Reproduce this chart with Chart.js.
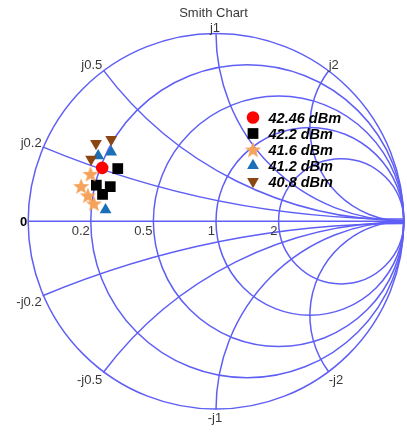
<!DOCTYPE html>
<html>
<head>
<meta charset="utf-8">
<script src="https://cdn.jsdelivr.net/npm/chart.js@4/dist/chart.umd.min.js"></script>
<style>
    html, body { margin: 0; padding: 0; background: #fff; }
    #smith { display: block; }
</style>
</head>
<body>
<canvas id="smith" width="407" height="432"></canvas>
<script>
// measured points as reflection coefficient (real, imaginary)
const seriesLabels = ['42.46 dBm', '42.2 dBm', '41.6 dBm', '41.2 dBm', '40.8 dBm'];
const gamma4246Re = [-0.606];
const gamma4246Im = [0.284];
const gamma422Re = [-0.523, -0.637, -0.563, -0.604];
const gamma422Im = [0.280, 0.192, 0.184, 0.143];
const gamma416Re = [-0.668, -0.718, -0.682, -0.650];
const gamma416Im = [0.252, 0.187, 0.138, 0.095];
const gamma412Re = [-0.627, -0.558, -0.588];
const gamma412Im = [0.348, 0.368, 0.061];
const gamma408Re = [-0.639, -0.558, -0.665];
const gamma408Im = [0.414, 0.435, 0.330];

// grid
const resistanceValues = [0.2, 0.5, 1, 2];
const reactanceValues = [0.2, 0.5, 1, 2];
const resistanceLabels = ['0.2', '0.5', '1', '2'];
const reactanceLabels = ['j0.2', 'j0.5', 'j1', 'j2'];

const gridColor = '#5f5ff6';
const labelColor = '#383838';

function pairs(re, im) {
    return re.map((v, i) => ({ x: v, y: im[i] }));
}

function makeStar(color) {
    const c = document.createElement('canvas');
    c.width = 18; c.height = 18;
    const g = c.getContext('2d');
    g.fillStyle = color;
    g.beginPath();
    for (let i = 0; i < 10; i++) {
        const r = i % 2 === 0 ? 8.5 : 3.6;
        const a = -Math.PI / 2 + i * Math.PI / 5;
        const px = 9 + r * Math.cos(a), py = 9.8 + r * Math.sin(a);
        if (i === 0) g.moveTo(px, py); else g.lineTo(px, py);
    }
    g.closePath();
    g.fill();
    return c;
}

const starImage = makeStar('#f5a25a');

const seriesStyles = [
    { pointStyle: 'circle', radius: 6.3, color: '#ff0000', rotation: 0 },
    { pointStyle: 'rect', radius: 7.6, color: '#000000', rotation: 0 },
    { pointStyle: starImage, radius: 8, color: '#f5a25a', rotation: 0 },
    { pointStyle: 'triangle', radius: 6.8, color: '#1a6fb6', rotation: 0 },
    { pointStyle: 'triangle', radius: 6.8, color: '#8b4513', rotation: 180 },
];

const seriesData = [
    pairs(gamma4246Re, gamma4246Im),
    pairs(gamma422Re, gamma422Im),
    pairs(gamma416Re, gamma416Im),
    pairs(gamma412Re, gamma412Im),
    pairs(gamma408Re, gamma408Im),
];

const smithGrid = {
    id: 'smithGrid',
    beforeDatasetsDraw(chart) {
        const { ctx, scales: { x, y } } = chart;
        const px = v => x.getPixelForValue(v);
        const py = v => y.getPixelForValue(v);
        const unit = px(1) - px(0);

        ctx.save();
        ctx.strokeStyle = gridColor;
        ctx.lineWidth = 1.5;

        // r = 0 and the constant resistance circles
        ctx.beginPath();
        ctx.arc(px(0), py(0), unit, 0, Math.PI * 2);
        ctx.stroke();
        resistanceValues.forEach(r => {
            ctx.beginPath();
            ctx.arc(px(r / (1 + r)), py(0), unit / (1 + r), 0, Math.PI * 2);
            ctx.stroke();
        });

        // real axis
        ctx.beginPath();
        ctx.moveTo(px(-1), py(0));
        ctx.lineTo(px(1), py(0));
        ctx.stroke();

        // constant reactance arcs, +jx and -jx
        reactanceValues.forEach(xv => {
            const bx = (xv * xv - 1) / (xv * xv + 1);
            const by = 2 * xv / (xv * xv + 1);
            let angB = Math.atan2(-(by - 1 / xv), bx - 1);
            if (angB < 0) angB += Math.PI * 2;
            ctx.beginPath();
            ctx.arc(px(1), py(1 / xv), unit / xv, Math.PI / 2, angB);
            ctx.stroke();
            ctx.beginPath();
            ctx.arc(px(1), py(-1 / xv), unit / xv, Math.PI * 2 - angB, Math.PI * 1.5);
            ctx.stroke();
        });

        // labels
        ctx.fillStyle = labelColor;
        ctx.font = '13px "Liberation Sans", Arial, sans-serif';
        ctx.textBaseline = 'middle';
        reactanceValues.forEach((xv, i) => {
            const bx = px((xv * xv - 1) / (xv * xv + 1));
            const byUp = py(2 * xv / (xv * xv + 1));
            const byDn = py(-2 * xv / (xv * xv + 1));
            let tx = bx;
            if (xv < 1) { ctx.textAlign = 'right'; tx = bx - 1; }
            else if (xv === 1) { ctx.textAlign = 'center'; tx = bx - 1; }
            else { ctx.textAlign = 'left'; tx = bx; }
            ctx.fillText(reactanceLabels[i], tx, byUp - 5);
            ctx.fillText('-' + reactanceLabels[i], tx, byDn + 8.5);
        });
        ctx.textAlign = 'right';
        resistanceValues.forEach((r, i) => {
            ctx.fillText(resistanceLabels[i], px((r - 1) / (r + 1)) - 1, py(0) + 10.5);
        });
        ctx.fillStyle = '#000';
        ctx.font = 'bold 13px "Liberation Sans", Arial, sans-serif';
        ctx.fillText('0', px(-1) - 1, py(0) + 1);

        // title
        ctx.fillStyle = labelColor;
        ctx.font = '13px "Liberation Sans", Arial, sans-serif';
        ctx.textAlign = 'center';
        ctx.fillText('Smith Chart', 213.5, 13);
        ctx.restore();
    }
};

const smithLegend = {
    id: 'smithLegend',
    afterDatasetsDraw(chart) {
        const { ctx } = chart;
        ctx.save();
        ctx.font = 'italic bold 14.5px "Liberation Sans", Arial, sans-serif';
        ctx.textAlign = 'left';
        ctx.textBaseline = 'middle';
        seriesLabels.forEach((label, i) => {
            const s = seriesStyles[i];
            const rowY = 117.5 + i * 16;
            ctx.fillStyle = s.color;
            ctx.strokeStyle = s.color;
            Chart.helpers.drawPoint(ctx, { pointStyle: s.pointStyle, radius: s.radius, rotation: s.rotation, borderWidth: 0 }, 253, rowY);
            ctx.fillStyle = '#000';
            ctx.fillText(label, 268.5, rowY + 1);
        });
        ctx.restore();
    }
};

// unit circle: left edge at 21px, top at 26px, radius 195.5px
const pxPerUnit = 195.5;
const xMin = -1 - 21 / pxPerUnit;
const yMax = 1 + 26 / pxPerUnit;

new Chart(document.getElementById('smith'), {
    type: 'scatter',
    data: {
        datasets: seriesData.map((pts, i) => ({
            label: seriesLabels[i],
            data: pts,
            pointStyle: seriesStyles[i].pointStyle,
            pointRadius: seriesStyles[i].radius,
            pointRotation: seriesStyles[i].rotation,
            backgroundColor: seriesStyles[i].color,
            borderColor: seriesStyles[i].color,
            borderWidth: 0,
            order: seriesLabels.length - i,
        }))
    },
    options: {
        responsive: false,
        animation: false,
        devicePixelRatio: 1,
        layout: { padding: 0 },
        scales: {
            x: { type: 'linear', display: false, min: xMin, max: xMin + 407 / pxPerUnit },
            y: { type: 'linear', display: false, min: yMax - 432 / pxPerUnit, max: yMax },
        },
        plugins: {
            legend: { display: false },
            tooltip: { enabled: false },
            title: { display: false },
        }
    },
    plugins: [smithGrid, smithLegend]
});
</script>
</body>
</html>
